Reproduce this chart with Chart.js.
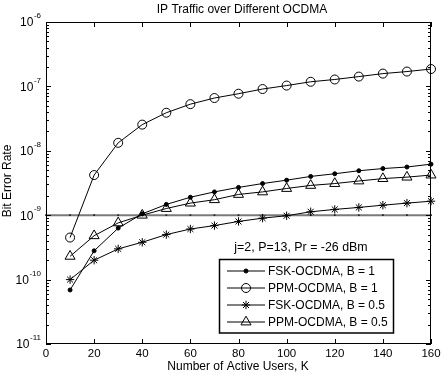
<!DOCTYPE html>
<html><head><meta charset="utf-8">
<style>html,body{margin:0;padding:0;background:#fff}#wrap{width:444px;height:374px}</style>
<script src="https://cdn.jsdelivr.net/npm/chart.js@4.4.1/dist/chart.umd.min.js"></script>
</head><body><div id="wrap"><canvas id="c" width="444" height="374"></canvas></div>
<script>
const users = [10,20,30,40,50,60,70,80,90,100,110,120,130,140,150,160];
const fskB1  = [6.9e-11,2.8e-10,6.3e-10,1.05e-9,1.47e-9,1.9e-9,2.3e-9,2.7e-9,3.1e-9,3.5e-9,4.0e-9,4.4e-9,4.9e-9,5.3e-9,5.6e-9,6.2e-9];
const ppmB1  = [4.5e-10,4.2e-9,1.33e-8,2.55e-8,3.9e-8,5.3e-8,6.6e-8,7.7e-8,9.1e-8,1.03e-7,1.18e-7,1.28e-7,1.42e-7,1.58e-7,1.7e-7,1.86e-7];
const fskB05 = [1.0e-10,2.0e-10,3.0e-10,3.8e-10,5.0e-10,6.1e-10,6.9e-10,8.0e-10,9.0e-10,9.8e-10,1.13e-9,1.23e-9,1.32e-9,1.43e-9,1.54e-9,1.65e-9];
const ppmB05 = [2.3e-10,4.8e-10,7.6e-10,1.0e-9,1.27e-9,1.54e-9,1.74e-9,2.1e-9,2.3e-9,2.6e-9,2.9e-9,3.1e-9,3.4e-9,3.7e-9,3.9e-9,4.2e-9];
const thresholdUsers = [0,10,20,30,40,50,60,70,80,90,100,110,120,130,140,150,160];
const thresholdBER = [1e-9,1e-9,1e-9,1e-9,1e-9,1e-9,1e-9,1e-9,1e-9,1e-9,1e-9,1e-9,1e-9,1e-9,1e-9,1e-9,1e-9];
const xTickValues = [0,20,40,60,80,100,120,140,160];
const yTickValues = [1e-11,1e-10,1e-9,1e-8,1e-7,1e-6];
const yTickExponents = ['-11','-10','-9','-8','-7','-6'];
const seriesNames = ['FSK-OCDMA, B = 1','PPM-OCDMA, B = 1','FSK-OCDMA, B = 0.5','PPM-OCDMA, B = 0.5'];
const noteText = 'j=2, P=13, Pr = -26 dBm';
const titleText = 'IP Traffic over Different OCDMA';
const xTitleText = 'Number of Active Users, K';
const yTitleText = 'Bit Error Rate';

const FONT = "'Liberation Sans', Arial, sans-serif";
const pts = (xs, ys) => xs.map((x, i) => ({x, y: ys[i]}));

const markerStyles = [
  {style:'circle', r:2, fill:'#000'},
  {style:'circle', r:4.5, fill:'rgba(0,0,0,0)'},
  {style:'star', r:4.2, fill:'rgba(0,0,0,0)'},
  {style:'triangle', r:5.8, fill:'rgba(0,0,0,0)'}
];
const seriesData = [fskB1, ppmB1, fskB05, ppmB05];

const datasets = seriesData.map((d, i) => ({
  label: seriesNames[i],
  data: pts(users, d),
  borderColor: '#000',
  borderWidth: 1,
  pointStyle: markerStyles[i].style,
  pointRadius: markerStyles[i].r,
  pointBackgroundColor: markerStyles[i].fill,
  pointBorderColor: '#000',
  pointBorderWidth: 1,
  tension: 0,
  clip: 10,
  order: 1
}));
datasets.push({
  label: 'threshold',
  data: pts(thresholdUsers, thresholdBER),
  borderColor: '#7a7a7a',
  borderWidth: 2,
  pointStyle: 'rect',
  pointRadius: 1.2,
  pointBackgroundColor: '#222',
  pointBorderColor: '#222',
  pointBorderWidth: 0,
  clip: 2,
  order: 5
});

function drawMarker(ctx, style, r, x, y, fill) {
  ctx.beginPath();
  if (style === 'circle') {
    ctx.arc(x, y, r, 0, Math.PI * 2);
    if (fill !== 'rgba(0,0,0,0)') { ctx.fillStyle = fill; ctx.fill(); }
    ctx.stroke();
  } else if (style === 'triangle') {
    let rad = 0;
    ctx.moveTo(x + Math.sin(rad) * r, y - Math.cos(rad) * r);
    rad += 2 * Math.PI / 3;
    ctx.lineTo(x + Math.sin(rad) * r, y - Math.cos(rad) * r);
    rad += 2 * Math.PI / 3;
    ctx.lineTo(x + Math.sin(rad) * r, y - Math.cos(rad) * r);
    ctx.closePath();
    ctx.stroke();
  } else if (style === 'star') {
    ctx.moveTo(x, y - r); ctx.lineTo(x, y + r);
    ctx.moveTo(x - r, y); ctx.lineTo(x + r, y);
    const d = r * Math.SQRT1_2;
    ctx.moveTo(x - d, y - d); ctx.lineTo(x + d, y + d);
    ctx.moveTo(x - d, y + d); ctx.lineTo(x + d, y - d);
    ctx.stroke();
  }
}

const framePlugin = {
  id: 'frame',
  afterDatasetsDraw(chart) {
    const {ctx, chartArea: a, scales: {x, y}} = chart;
    ctx.save();
    ctx.strokeStyle = '#000';
    ctx.lineWidth = 1;
    ctx.beginPath();
    xTickValues.forEach(v => {
      const px = Math.round(x.getPixelForValue(v)) + 0.5;
      ctx.moveTo(px, a.bottom); ctx.lineTo(px, a.bottom - 5);
      ctx.moveTo(px, a.top); ctx.lineTo(px, a.top + 5);
    });
    yTickValues.forEach((dec, k) => {
      for (let m = 1; m < 10; m++) {
        if (m > 1 && k === yTickValues.length - 1) break;
        const py = Math.round(y.getPixelForValue(m * dec)) + 0.5;
        const len = m === 1 ? 5 : 3;
        ctx.moveTo(a.left, py); ctx.lineTo(a.left + len, py);
        ctx.moveTo(a.right, py); ctx.lineTo(a.right - len, py);
      }
    });
    ctx.stroke();
    ctx.strokeRect(Math.round(a.left) + 0.5, Math.round(a.top) + 0.5, Math.round(a.right - a.left) - 1, Math.round(a.bottom - a.top) - 1);

    ctx.fillStyle = '#000';
    ctx.textBaseline = 'middle';
    // y tick labels with superscript exponents
    yTickValues.forEach((v, i) => {
      const py = y.getPixelForValue(v);
      ctx.font = '8px ' + FONT;
      const ew = ctx.measureText(yTickExponents[i]).width;
      const rightX = a.left - 5;
      ctx.textAlign = 'left';
      ctx.fillText(yTickExponents[i], rightX - ew, py - 6);
      ctx.font = '12px ' + FONT;
      ctx.textAlign = 'right';
      ctx.fillText('10', rightX - ew - 0.5, py + 1);
    });
    // x tick labels
    ctx.font = '11.5px ' + FONT;
    ctx.textAlign = 'center';
    xTickValues.forEach(v => {
      ctx.fillText(String(v), x.getPixelForValue(v), a.bottom + 9.5);
    });
    // titles
    ctx.font = '12px ' + FONT;
    ctx.fillText(titleText, 242, 9.5);
    ctx.fillText(xTitleText, 238, 367);
    ctx.save();
    ctx.translate(8, 181);
    ctx.rotate(-Math.PI / 2);
    ctx.fillText(yTitleText, 0, 0);
    ctx.restore();

    // annotation
    ctx.font = '12.4px ' + FONT;
    ctx.textAlign = 'center';
    ctx.fillText(noteText, 301, 248);

    // legend box
    const bx = 219.5, by = 259.5, bw = 174, bh = 73.5;
    ctx.fillStyle = '#fff';
    ctx.fillRect(bx, by, bw, bh);
    ctx.lineWidth = 1.5;
    ctx.strokeStyle = '#000';
    ctx.strokeRect(bx, by, bw, bh);
    const rows = [271, 288, 305, 322];
    ctx.lineWidth = 1;
    rows.forEach((ry, i) => {
      ctx.beginPath();
      ctx.moveTo(227, ry); ctx.lineTo(265, ry);
      ctx.stroke();
      drawMarker(ctx, markerStyles[i].style, markerStyles[i].r, 246, ry, markerStyles[i].fill);
      ctx.fillStyle = '#000';
      ctx.textAlign = 'left';
      ctx.font = '12px ' + FONT;
      ctx.fillText(seriesNames[i], 268, ry + 0.5);
    });
    ctx.restore();
  }
};

new Chart(document.getElementById('c'), {
  type: 'line',
  data: {datasets},
  options: {
    responsive: false,
    animation: false,
    layout: {padding: {left: 0, right: 13, top: 22, bottom: 0}},
    plugins: {
      legend: {display: false},
      tooltip: {enabled: false},
      title: {display: false}
    },
    scales: {
      x: {
        type: 'linear', min: 0, max: 160,
        grid: {display: false, drawTicks: false},
        border: {display: false},
        ticks: {display: false, stepSize: 20},
        afterFit: s => { s.height = 30; }
      },
      y: {
        type: 'logarithmic', min: 1e-11, max: 1e-6,
        grid: {display: false, drawTicks: false},
        border: {display: false},
        ticks: {display: false},
        afterFit: s => { s.width = 46; }
      }
    }
  },
  plugins: [framePlugin]
});
</script>
</body></html>
